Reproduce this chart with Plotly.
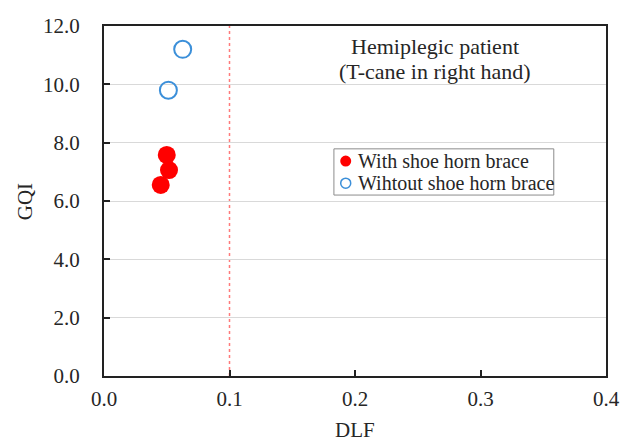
import plotly.graph_objects as go

with_dlf = [0.050, 0.0518, 0.0452]
with_gqi = [7.58, 7.06, 6.55]
without_dlf = [0.0627, 0.0513]
without_gqi = [11.2, 9.8]
dlf_threshold = 0.1
x_ticks = [0.0, 0.1, 0.2, 0.3, 0.4]
y_ticks = [0, 2, 4, 6, 8, 10, 12]
series_names = ["With shoe horn brace", "Wihtout shoe horn brace"]
title_lines = ["Hemiplegic patient", "(T-cane in right hand)"]
x_title = "DLF"
y_title = "GQI"

FONT = "Liberation Serif"
TXT = "#262626"
RED = "#ff0000"
BLUE = "#3b8fd9"

fig = go.Figure()
fig.add_trace(go.Scatter(
    x=with_dlf, y=with_gqi, mode="markers", name=series_names[0],
    marker=dict(color=RED, size=18, line=dict(width=0)), showlegend=False,
))
fig.add_trace(go.Scatter(
    x=without_dlf, y=without_gqi, mode="markers", name=series_names[1],
    marker=dict(color=BLUE, size=17, symbol="circle-open",
                line=dict(color=BLUE, width=2)), showlegend=False,
))
fig.add_shape(type="line", xref="x", yref="y", x0=dlf_threshold, x1=dlf_threshold,
              y0=0, y1=12, line=dict(color="#ff7a7a", width=1.5, dash="dot"), layer="below")

# title annotation (two lines)
for txt, yy in zip(title_lines, [11.29, 10.43]):
    fig.add_annotation(x=0.2637, y=yy, xref="x", yref="y", text=txt,
                       showarrow=False, font=dict(family=FONT, size=22, color=TXT),
                       xanchor="center", yanchor="middle")

# axis titles
fig.add_annotation(x=0.5, y=-0.193, xref="paper", yref="paper", text=x_title,
                   showarrow=False, font=dict(family=FONT, size=21, color=TXT),
                   xanchor="center", yanchor="bottom")
fig.add_annotation(x=-0.157, y=0.497, xref="paper", yref="paper", text=y_title,
                   showarrow=False, textangle=-90,
                   font=dict(family=FONT, size=21, color=TXT),
                   xanchor="center", yanchor="middle")

# legend box drawn manually
fig.add_shape(type="rect", xref="paper", yref="paper", x0=0.458, x1=0.896,
              y0=0.517, y1=0.649, line=dict(color="#8c8c8c", width=1),
              fillcolor="white", layer="above")
legend_rows = [0.614, 0.551]
fig.add_shape(type="circle", xref="paper", yref="paper", xsizemode="pixel",
              ysizemode="pixel", xanchor=0.4815, yanchor=legend_rows[0],
              x0=-5.5, x1=5.5, y0=-5.5, y1=5.5, fillcolor=RED,
              line=dict(width=0), layer="above")
fig.add_shape(type="circle", xref="paper", yref="paper", xsizemode="pixel",
              ysizemode="pixel", xanchor=0.4815, yanchor=legend_rows[1],
              x0=-5, x1=5, y0=-5, y1=5, fillcolor="white",
              line=dict(color=BLUE, width=1.5), layer="above")
for name, yy in zip(series_names, legend_rows):
    fig.add_annotation(x=0.501, y=yy, xref="paper", yref="paper", text=name,
                       showarrow=False, font=dict(family=FONT, size=20, color=TXT),
                       xanchor="left", yanchor="middle")

fig.update_layout(
    width=623, height=443,
    margin=dict(l=104, r=17, t=26, b=67),
    paper_bgcolor="white", plot_bgcolor="white",
    font=dict(family=FONT, size=21, color=TXT),
    showlegend=False,
    xaxis=dict(range=[0, 0.4], tickvals=x_ticks, ticktext=[f"{v:.1f}" for v in x_ticks],
               showgrid=False, zeroline=False, showline=True, linecolor="#222",
               linewidth=2, mirror=True, ticks="inside", ticklen=6, tickwidth=2,
               tickcolor="#222", ticklabelstandoff=3, automargin=False),
    yaxis=dict(range=[0, 12], tickvals=y_ticks, ticktext=[f"{v:.1f}" for v in y_ticks],
               showgrid=True, gridcolor="#d9d9d9", gridwidth=1, zeroline=False,
               showline=True, linecolor="#222", linewidth=2, mirror=True,
               ticks="inside", ticklen=6, tickwidth=2, tickcolor="#222",
               ticklabelstandoff=18, automargin=False),
)

fig.write_html("out.html")
